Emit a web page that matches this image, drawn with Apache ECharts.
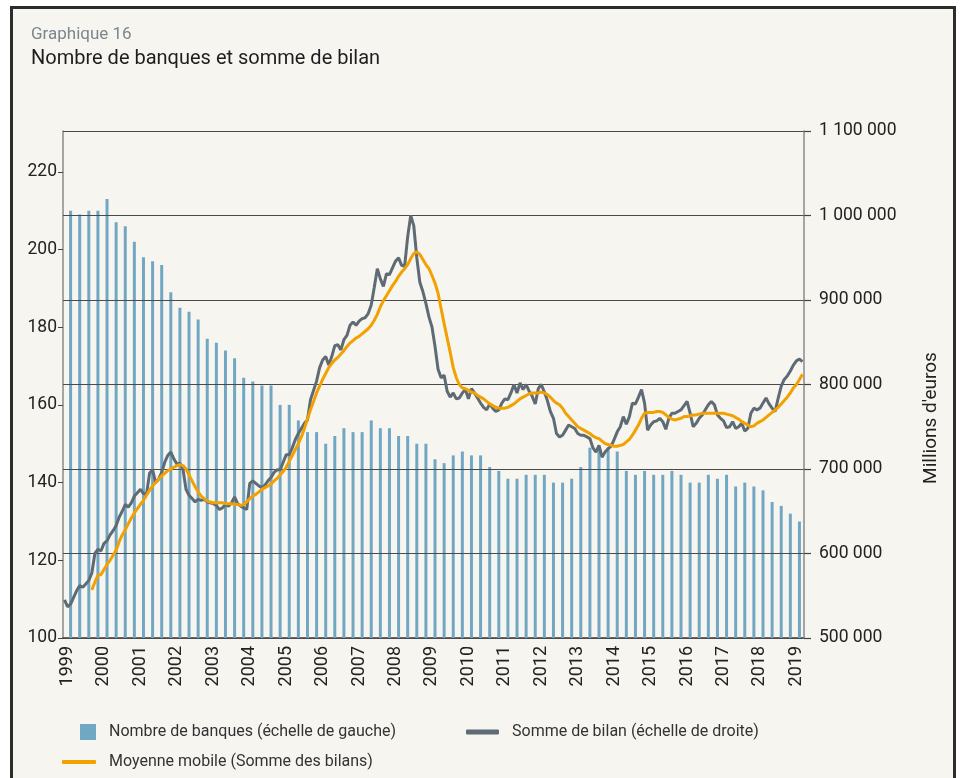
<!DOCTYPE html>
<html>
<head>
<meta charset="utf-8">
<script src="https://cdn.jsdelivr.net/npm/echarts@6.0.0/dist/echarts.min.js"></script>
<style>
  html, body { margin: 0; padding: 0; background: #fff; }
  #chart { width: 962px; height: 778px; }
</style>
</head>
<body>
<div id="chart"></div>
<script>
// Nombre de banques : une valeur par trimestre (fin de trimestre), mars 1999 -> mars 2019
var bankCounts = [
  210, 209, 210, 210, 213, 207, 206, 202, 198, 197, 196, 189, 185, 184, 182, 177,
  176, 174, 172, 167, 166, 165, 165, 160, 160, 156, 153, 153, 150, 152, 154, 153,
  153, 156, 154, 154, 152, 152, 150, 150, 146, 145, 147, 148, 147, 147, 144, 143,
  141, 141, 142, 142, 142, 140, 140, 141, 144, 149, 149, 149, 148, 143, 142, 143,
  142, 142, 143, 142, 140, 140, 142, 141, 142, 139, 140, 139, 138, 135, 134, 132,
  130
];

// Somme de bilan, en milliers de millions d'euros, mensuel, janv. 1999 -> avr. 2019
var balanceTotal = [
  545, 537, 540, 548, 556, 562, 560, 564, 568, 577, 600, 605,
  603, 612, 615, 622, 627, 633, 643, 650, 658, 655, 660, 668,
  672, 676, 671, 670, 695, 699, 684, 688, 696, 708, 716, 720,
  712, 706, 707, 700, 676, 669, 665, 661, 664, 663, 664, 661,
  660, 659, 657, 652, 654, 658, 656, 660, 667, 659, 656, 654,
  652, 683, 686, 683, 680, 678, 681, 686, 690, 696, 699, 699,
  708, 717, 717, 725, 735, 742, 748, 754, 758, 782, 793, 804,
  820, 829, 833, 823, 833, 846, 847, 841, 853, 858, 870, 874,
  870, 875, 878, 879, 884, 894, 915, 937, 925, 916, 931, 930,
  938, 946, 950, 941, 940, 975, 1000, 988, 950, 921, 910, 896,
  880, 868, 845, 818, 808, 811, 792, 785, 790, 783, 784, 790,
  794, 783, 795, 790, 784, 778, 773, 770, 777, 772, 768, 770,
  778, 783, 782, 790, 800, 790, 802, 794, 800, 792, 786, 777,
  795, 800, 791, 781, 768, 760, 742, 738, 740, 746, 752, 750,
  748, 742, 740, 740, 738, 736, 725, 720, 728, 714, 720, 724,
  727, 735, 744, 750, 762, 753, 762, 778, 777, 785, 794, 778,
  746, 752, 756, 757, 760, 756, 747, 760, 766, 766, 768, 770,
  775, 780, 766, 750, 754, 760, 764, 770, 776, 780, 776, 764,
  760, 757, 749, 750, 756, 748, 750, 754, 745, 748, 766, 772,
  770, 772, 778, 784, 777, 772, 768, 784, 798, 806, 810, 816,
  823, 828, 830, 827
];

// Moyenne mobile (même unité), commence en octobre 1999
var movingAverage = [
  null, null, null, null, null, null, null, null, null, 557, 566, 574,
  575, 581, 587, 592, 598, 604, 614, 622, 628, 635, 642, 648,
  653, 658, 663, 669, 675, 680, 684, 688, 692, 695, 698, 700,
  702, 704, 705, 704, 700, 693, 686, 679, 673, 668, 665, 662,
  661, 660, 660, 660, 660, 659, 659, 659, 658, 658, 657, 658,
  661, 665, 668, 670, 673, 676, 678, 680, 682, 686, 689, 693,
  697, 702, 709, 716, 723, 730, 738, 748, 759, 770, 780, 790,
  798, 806, 813, 820, 825, 829, 832, 836, 840, 845, 849, 852,
  855, 857, 860, 863, 866, 870, 876, 883, 892, 899, 905, 911,
  917, 922, 928, 933, 937, 942, 949, 955, 957, 954, 948, 942,
  937, 929, 920, 908, 890, 872, 855, 838, 820, 808, 800, 796,
  795, 793, 791, 790, 787, 785, 783, 780, 777, 775, 773, 772,
  772, 772, 773, 775, 777, 780, 783, 785, 787, 789, 790, 790,
  790, 791, 790, 788, 785, 781, 778, 776, 772, 766, 762, 758,
  754, 750, 748, 746, 744, 742, 739, 737, 736, 733, 730, 729,
  728, 727, 727, 728, 729, 732, 735, 740, 746, 752, 760, 766,
  767, 767, 767, 768, 768, 767, 764, 761, 759, 758, 759, 760,
  762, 762, 763, 764, 764, 765, 766, 766, 766, 766, 766, 766,
  766, 766, 765, 764, 763, 761, 759, 756, 754, 752, 750, 751,
  754, 756, 758, 761, 764, 767, 770, 773, 777, 781, 785, 790,
  796, 800, 806, 812
];

var leftTicks = [100, 120, 140, 160, 180, 200, 220];
var firstYear = 1999;

// axe des mois
var months = [];
for (var i = 0; i < balanceTotal.length; i++) {
  var y = firstYear + Math.floor(i / 12);
  var m = (i % 12) + 1;
  months.push(y + '-' + (m < 10 ? '0' + m : m));
}

// barres placées en fin de trimestre (mars, juin, sept., déc.)
var barData = months.map(function () { return null; });
bankCounts.forEach(function (v, k) { barData[2 + 3 * k] = v; });

var FONT = 'Roboto';
var TXT = '#222222';

function spaced(v) {
  return String(Math.round(v * 1000)).replace(/\B(?=(\d{3})+(?!\d))/g, ' ');
}

var chart = echarts.init(document.getElementById('chart'));
var option = {
  animation: false,
  backgroundColor: '#ffffff',
  textStyle: { fontFamily: FONT },
  title: [
    { text: 'Graphique 16', left: 26, top: 21,
      textStyle: { fontSize: 17, fontWeight: 'normal', color: '#7c868e', fontFamily: FONT } },
    { text: 'Nombre de banques et somme de bilan', left: 26, top: 44,
      textStyle: { fontSize: 20, fontWeight: 'normal', color: '#1e1e1e', fontFamily: FONT } }
  ],
  graphic: [
    { type: 'rect', z: -10, silent: true,
      shape: { x: 11.5, y: 7.5, width: 943, height: 800 },
      style: { fill: '#f6f5f0', stroke: '#2c2c2c', lineWidth: 3 } },
    { type: 'text', x: 931, y: 418, rotation: Math.PI / 2,
      style: { text: "Millions d'euros", fill: TXT, font: '19px ' + FONT,
               align: 'center', verticalAlign: 'middle' } }
  ],
  legend: [
    { left: 75, top: 719, itemWidth: 16, itemHeight: 16, icon: 'rect',
      data: ['Nombre de banques (échelle de gauche)'],
      textStyle: { fontSize: 16, color: '#333', padding: [0, 0, 0, 8] } },
    { left: 461, top: 719, itemWidth: 33, itemHeight: 5, icon: 'roundRect',
      data: ['Somme de bilan (échelle de droite)'],
      textStyle: { fontSize: 16, color: '#333', padding: [0, 0, 0, 8] } },
    { left: 57, top: 749, itemWidth: 34, itemHeight: 4, icon: 'roundRect',
      data: ['Moyenne mobile (Somme des bilans)'],
      textStyle: { fontSize: 16, color: '#333', padding: [0, 0, 0, 8] } }
  ],
  grid: { left: 63, right: 158, top: 131, bottom: 140, outerBoundsMode: 'none' },
  xAxis: {
    type: 'category',
    data: months,
    boundaryGap: true,
    axisLine: { lineStyle: { color: '#3c3c3c', width: 1.5 } },
    axisTick: { interval: 0, length: 5, lineStyle: { color: '#333', width: 1 } },
    axisLabel: {
      interval: function (idx) { return idx % 12 === 1; },
      rotate: 90, fontSize: 18, color: TXT, margin: 8,
      formatter: function (v) { return v.slice(0, 4); }
    },
    splitLine: { show: false }
  },
  yAxis: [
    {
      type: 'value', position: 'left', min: 100, max: 230.5,
      axisLine: { show: true, lineStyle: { color: '#8a8a8a', width: 1.5 } },
      axisTick: { show: true, length: 5, customValues: leftTicks, lineStyle: { color: '#444' } },
      axisLabel: { customValues: leftTicks, fontSize: 17.5, color: TXT, margin: 6 },
      splitLine: { show: false }
    },
    {
      type: 'value', position: 'right', min: 500, max: 1100, interval: 100, z: 2,
      axisLine: { show: true, lineStyle: { color: '#8a8a8a', width: 1.5 } },
      axisTick: { show: true, length: 7, lineStyle: { color: '#444', width: 1.2 } },
      axisLabel: { fontSize: 17.5, color: TXT, margin: 15, formatter: spaced },
      splitLine: { show: true, lineStyle: { color: '#4a4a4a', width: 1.2 } }
    }
  ],
  series: [
    {
      name: 'Nombre de banques (échelle de gauche)',
      type: 'bar', yAxisIndex: 0, z: 1,
      barWidth: 3,
      itemStyle: { color: '#72a7c4' },
      data: barData
    },
    {
      name: 'Somme de bilan (échelle de droite)',
      type: 'line', yAxisIndex: 1, z: 3,
      symbol: 'none',
      lineStyle: { color: '#5f6b74', width: 3 },
      itemStyle: { color: '#5f6b74' },
      data: balanceTotal
    },
    {
      name: 'Moyenne mobile (Somme des bilans)',
      type: 'line', yAxisIndex: 1, z: 4,
      symbol: 'none',
      lineStyle: { color: '#f2a100', width: 3 },
      itemStyle: { color: '#f2a100' },
      data: movingAverage
    }
  ]
};
chart.setOption(option);
</script>
</body>
</html>
